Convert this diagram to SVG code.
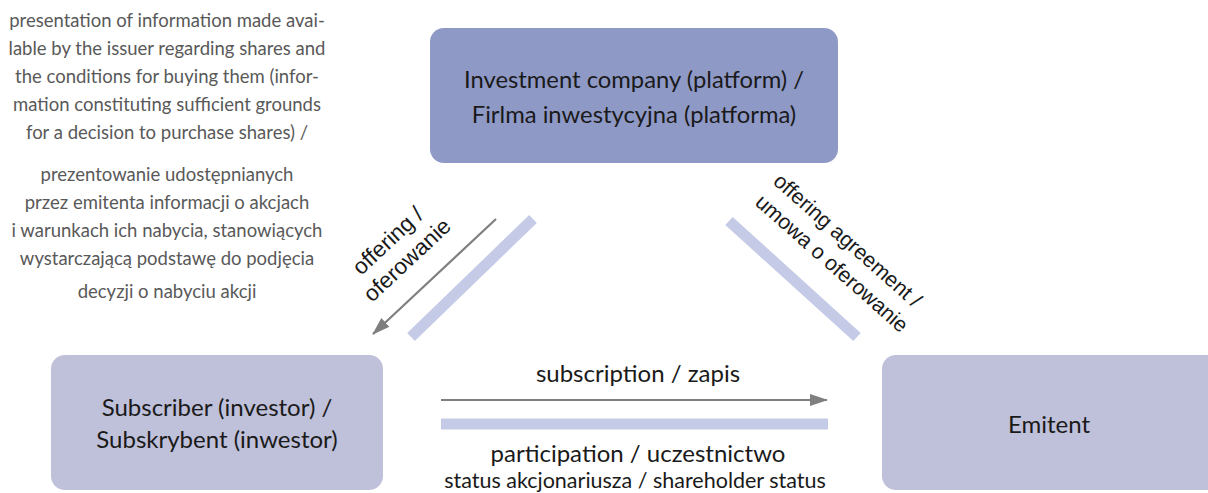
<svg xmlns="http://www.w3.org/2000/svg" width="1208" height="493" viewBox="0 0 1208 493">
  <defs>
    <marker id="arrow" viewBox="0 0 18 12" refX="17" refY="6" markerWidth="18" markerHeight="12" markerUnits="userSpaceOnUse" orient="auto">
      <path d="M0,0 L18,6 L0,12 z" fill="#7f7f7f"/>
    </marker>
    <style>
      .txt { font-family: Lato, "Open Sans", "Liberation Sans", sans-serif; fill: #1a1a1a; text-anchor: middle; }
      .note { font-family: Lato, "Open Sans", "Liberation Sans", sans-serif; fill: #595959; font-size: 18.5px; text-anchor: middle; }
      .box-main { fill: #8f99c6; }
      .box { fill: #bfc0d9; }
      .flow { stroke: #7f7f7f; stroke-width: 2.2; fill: none; marker-end: url(#arrow); }
      .band { stroke: #c5cbe7; stroke-width: 11; fill: none; }
      .lbl { font-family: "Liberation Sans", Lato, sans-serif; fill: #1a1a1a; }
    </style>
  </defs>

  <!-- explanatory note -->
  <g id="note">
    <text class="note" x="167" y="27">presentation of information made avai-</text>
    <text class="note" x="167" y="55">lable by the issuer regarding shares and</text>
    <text class="note" x="167" y="83">the conditions for buying them (infor-</text>
    <text class="note" x="167" y="111">mation constituting sufficient grounds</text>
    <text class="note" x="167" y="139">for a decision to purchase shares) /</text>
    <text class="note" x="167" y="181">prezentowanie udostępnianych</text>
    <text class="note" x="167" y="209">przez emitenta informacji o akcjach</text>
    <text class="note" x="167" y="237">i warunkach ich nabycia, stanowiących</text>
    <text class="note" x="167" y="265">wystarczającą podstawę do podjęcia</text>
    <text class="note" x="167" y="298">decyzji o nabyciu akcji</text>
  </g>

  <!-- nodes -->
  <g id="investment-company">
    <rect class="box-main" x="430" y="28" width="408" height="135" rx="14"/>
    <text class="txt" x="634" y="88" font-size="23.8">Investment company (platform) /</text>
    <text class="txt" x="634" y="123" font-size="23.8">Firlma inwestycyjna (platforma)</text>
  </g>
  <g id="subscriber">
    <rect class="box" x="51" y="355" width="332" height="135" rx="14"/>
    <text class="txt" x="217" y="416" font-size="24">Subscriber (investor) /</text>
    <text class="txt" x="217" y="448" font-size="24">Subskrybent (inwestor)</text>
  </g>
  <g id="emitent">
    <rect class="box" x="882" y="355" width="340" height="135" rx="14"/>
    <text class="txt" x="1049" y="433" font-size="24">Emitent</text>
  </g>

  <!-- connectors -->
  <g id="connectors">
    <line class="flow" x1="496" y1="219" x2="373" y2="334"/>
    <line class="band" x1="533" y1="219" x2="411" y2="337"/>
    <line class="band" x1="729" y1="221" x2="857" y2="337"/>
    <line class="flow" x1="441" y1="400" x2="827" y2="400"/>
    <line class="band" x1="441" y1="424" x2="828" y2="424"/>

    <text class="lbl" font-size="22.5" transform="translate(361,276) rotate(-43)">offering /</text>
    <text class="lbl" font-size="22.5" transform="translate(372,303) rotate(-43)">oferowanie</text>
    <text class="lbl" font-size="21.2" transform="translate(772,183) rotate(41.5)">offering agreement /</text>
    <text class="lbl" font-size="21.2" transform="translate(754,204) rotate(41.5)">umowa o oferowanie</text>

    <text class="txt" x="638" y="382" font-size="24">subscription / zapis</text>
    <text class="txt" x="638" y="462" font-size="24">participation / uczestnictwo</text>
    <text class="txt" x="635" y="488" font-size="21.5">status akcjonariusza / shareholder status</text>
  </g>
</svg>
